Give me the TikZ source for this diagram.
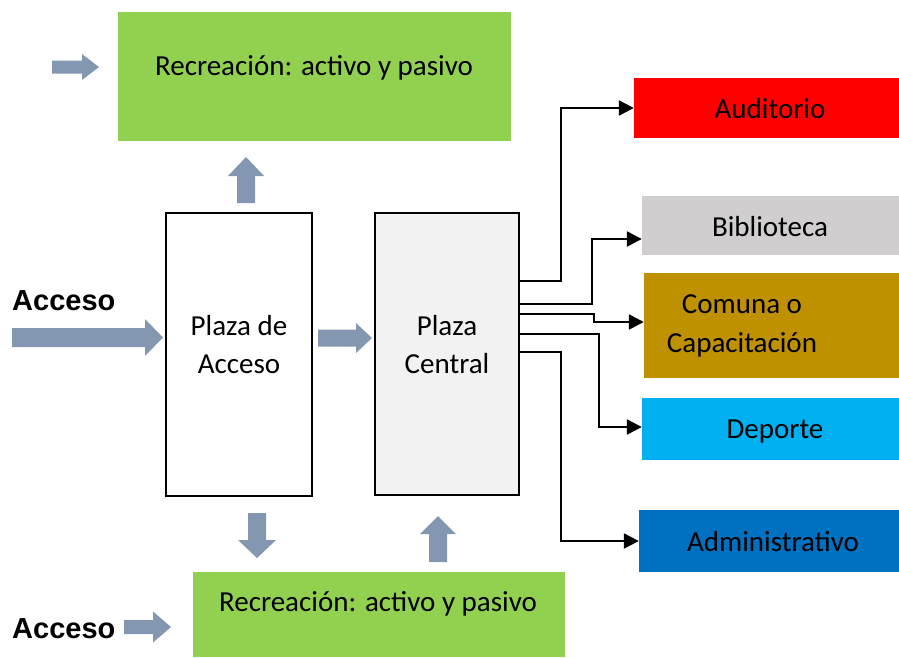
\documentclass[tikz,border=0pt]{standalone}
\usepackage{fontspec}
\setmainfont{Carlito}
\newfontfamily\arialfont{Liberation Sans}
\usetikzlibrary{arrows.meta}
\definecolor{agray}{HTML}{8497B0}
\definecolor{lgreen}{HTML}{92D050}
\definecolor{pcfill}{HTML}{F2F2F2}
\definecolor{audred}{HTML}{FF0000}
\definecolor{bibgray}{HTML}{D0CECE}
\definecolor{comgold}{HTML}{BF9000}
\definecolor{depblue}{HTML}{00B0F0}
\definecolor{admblue}{HTML}{0070C0}
\newcommand\garR[6]{\fill[agray] (#1,#2-#5) -- (#3,#2-#5) -- (#3,#2-#6) -- (#4,#2) -- (#3,#2+#6) -- (#3,#2+#5) -- (#1,#2+#5) -- cycle;}
\newcommand\garV[6]{\fill[agray] (#1-#5,#2) -- (#1-#5,#3) -- (#1-#6,#3) -- (#1,#4) -- (#1+#6,#3) -- (#1+#5,#3) -- (#1+#5,#2) -- cycle;}
\begin{document}
\begin{tikzpicture}[x=1pt,y=-1pt,
  txt/.style={font=\fontsize{29}{38.5}\selectfont, align=center},
  blk/.style={rectangle, inner sep=0pt, txt},
  plaza/.style={blk, draw=black, line width=2.2pt},
  conn/.style={draw=black, line width=2.4pt, -{Triangle[length=15pt,width=15pt]}},
  acc/.style={font=\arialfont\bfseries\fontsize{29}{32}\selectfont, inner sep=0pt, anchor=west}
]
\useasboundingbox (0,0) rectangle (899,657);
% boxes
\node[blk, fill=lgreen, minimum width=393pt, minimum height=129pt] (rtop) at (314.5,76.5) {};
\node[txt] (rtoptxt) at (314,68) {Recreación: activo y pasivo};
\node[plaza, fill=white, minimum width=146pt, minimum height=283pt] (pa) at (239,354.5) {};
\node[txt] (patxt) at (239,344.5) {Plaza de\\Acceso};
\node[plaza, fill=pcfill, minimum width=144pt, minimum height=282pt] (pc) at (447,354) {};
\node[txt] (pctxt) at (447,344.5) {Plaza\\Central};
\node[blk, fill=lgreen, minimum width=372pt, minimum height=85pt] (rbot) at (379,614.5) {};
\node[txt] (rbottxt) at (378,604) {Recreación: activo y pasivo};
\node[blk, fill=audred, minimum width=265pt, minimum height=60pt] (aud) at (766.5,108) {};
\node[txt] (audtxt) at (770,109) {Auditorio};
\node[blk, fill=bibgray, minimum width=257pt, minimum height=59pt] (bib) at (770.5,225.5) {};
\node[txt] (bibtxt) at (770,227) {Biblioteca};
\node[blk, fill=comgold, minimum width=255pt, minimum height=105pt] (com) at (771.5,325.5) {};
\node[txt] (comtxt) at (742,326) {Comuna o\\Capacitación};
\node[blk, fill=depblue, minimum width=257pt, minimum height=62pt] (dep) at (770.5,429) {};
\node[txt] (deptxt) at (775,432) {Deporte};
\node[blk, fill=admblue, minimum width=260pt, minimum height=62pt] (adm) at (769,541) {};
\node[txt] (admtxt) at (773,542) {Administrativo};
% Acceso labels
\node[acc] (acc1) at (12,301) {Acceso};
\node[acc] (acc2) at (12,629) {Acceso};
% thick arrows
\garR{52}{67}{82}{99}{6.5}{13}
\garR{12}{337.5}{145}{163}{9.5}{18.5}
\garR{318}{338}{356}{372}{8.5}{15}
\garR{124}{627}{153}{171}{7}{15.5}
\garV{246}{203}{176}{157}{9}{18}
\garV{257}{513}{540}{558}{9}{19}
\garV{438}{562}{534}{516}{9}{18}
% connectors
\draw[conn] (pc.east |- 0,281) -- (561,281) |- (aud.west);
\draw[conn] (pc.east |- 0,304) -| (592,239) -- (bib.west |- 0,239);
\draw[conn] (pc.east |- 0,314) -| (594,322) -- (com.west |- 0,322);
\draw[conn] (pc.east |- 0,334) -| (599,427) -- (dep.west |- 0,427);
\draw[conn] (pc.east |- 0,352) -| (561,541) -- (adm.west);
\end{tikzpicture}
\end{document}
